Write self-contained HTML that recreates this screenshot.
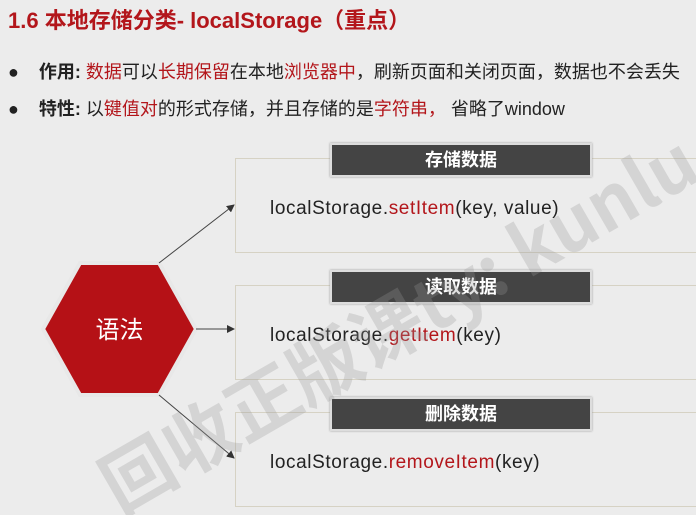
<!DOCTYPE html>
<html><head><meta charset="utf-8"><style>
body{margin:0;width:696px;height:515px;background:#ececec;overflow:hidden;position:relative;font-family:"Liberation Sans","Noto Sans CJK SC",sans-serif;}
.a{position:absolute;white-space:nowrap;}
.r{color:#b3161b}
.box{position:absolute;left:235px;width:470px;height:93px;border:1px solid #d6d2c4;border-right:none;}
.lab{position:absolute;left:330px;width:258px;height:30px;background:#444;border:2px solid #ddd;color:#fff;font-weight:bold;font-size:18px;text-align:center;line-height:30px;box-shadow:0 0 2px #999;}
.code{position:absolute;left:270px;font-size:19px;letter-spacing:0.6px;color:#222;}
</style></head><body>
<div class="a r" style="left:8px;top:3px;font-size:22px;font-weight:bold;">1.6 本地存储分类- localStorage（重点）</div>
<div class="a" style="left:8px;top:58px;font-size:18px;color:#222;">●&nbsp;&nbsp;&nbsp;&nbsp;<b>作用:</b> <span class="r">数据</span>可以<span class="r">长期保留</span>在本地<span class="r">浏览器中</span>，刷新页面和关闭页面，数据也不会丢失</div>
<div class="a" style="left:8px;top:95px;font-size:18px;color:#222;">●&nbsp;&nbsp;&nbsp;&nbsp;<b>特性:</b> 以<span class="r">键值对</span>的形式存储，并且存储的是<span class="r">字符串，</span> 省略了window</div>

<div class="box" style="top:158px"></div>
<div class="box" style="top:285px"></div>
<div class="box" style="top:412px"></div>
<div class="lab" style="top:143px">存储数据</div>
<div class="lab" style="top:270px">读取数据</div>
<div class="lab" style="top:397px">删除数据</div>
<div class="code" style="top:198px">localStorage.<span class="r">setItem</span>(key, value)</div>
<div class="code" style="top:325px">localStorage.<span class="r">getItem</span>(key)</div>
<div class="code" style="top:452px">localStorage.<span class="r">removeItem</span>(key)</div>

<svg class="a" style="left:0;top:0" width="696" height="515">
<defs><marker id="m" markerWidth="8" markerHeight="8" refX="7" refY="4" orient="auto"><path d="M0,0L8,4L0,8z" fill="#333"/></marker></defs>
<polygon points="80,263 159,263 196,329 159,395 80,395 43,329" fill="#b51116" stroke="#e8e8e8" stroke-width="4"/>
<text x="119.5" y="338" font-size="24" fill="#fff" text-anchor="middle" font-family="Noto Sans CJK SC,sans-serif">语法</text>
<line x1="159" y1="263" x2="234" y2="205" stroke="#444" stroke-width="1" marker-end="url(#m)"/>
<line x1="196" y1="329" x2="234" y2="329" stroke="#444" stroke-width="1" marker-end="url(#m)"/>
<line x1="159" y1="395" x2="234" y2="458" stroke="#444" stroke-width="1" marker-end="url(#m)"/>
<text x="0" y="0" transform="translate(120,515) rotate(-30)" font-size="72" fill="#999" opacity="0.28" font-family="Noto Sans CJK SC,sans-serif" font-weight="bold">回收正版课ty: kunlu</text>
</svg>
</body></html>
